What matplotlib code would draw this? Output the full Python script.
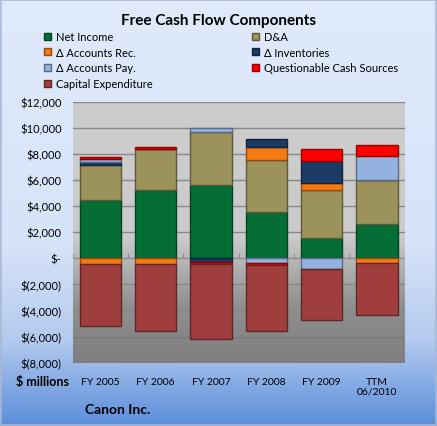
import numpy as np
import matplotlib
matplotlib.use("Agg")
import matplotlib.pyplot as plt
from matplotlib.colors import LinearSegmentedColormap, to_rgb

plt.rcParams['font.family'] = ['Lato', 'DejaVu Sans']

categories = ["FY 2005", "FY 2006", "FY 2007", "FY 2008", "FY 2009", "TTM\n06/2010"]
series_names = ["Net Income", "D&A", "Δ Accounts Rec.", "Δ Inventories",
                "Δ Accounts Pay.", "Questionable Cash Sources", "Capital Expenditure"]
net_income = [4500, 5250, 5650, 3550, 1520, 2600]
d_and_a = [2650, 3130, 4000, 4000, 3720, 3400]
accounts_rec = [-450, -450, 0, 1000, 560, -380]
inventories = [250, 0, -250, 600, 1650, 0]
accounts_pay = [200, 0, 300, -350, -820, 1820]
questionable = [150, 130, -200, -150, 950, 870]
capex = [-4730, -5110, -5730, -5060, -3920, -3980]
yticks = [-8000, -6000, -4000, -2000, 0, 2000, 4000, 6000, 8000, 10000, 12000]
ytick_labels = ["$(8,000)", "$(6,000)", "$(4,000)", "$(2,000)", "$-", "$2,000",
                "$4,000", "$6,000", "$8,000", "$10,000", "$12,000"]

colors = ["#056e37", "#9c935c", "#f57a12", "#1b3a66", "#94b2e0", "#ff0000", "#a03e3e"]
data = [net_income, d_and_a, accounts_rec, inventories, accounts_pay, questionable, capex]

W, H = 437, 427
fig = plt.figure(figsize=(W / 100, H / 100), dpi=100)

# figure background gradient
bg = fig.add_axes([0, 0, 1, 1], zorder=-10)
bg_cmap = LinearSegmentedColormap.from_list(
    "bg", [(0.0, "#e0eafb"), (0.58, "#d6e3f8"), (0.8, "#b3caee"), (1.0, "#5b8edb")])
grad = np.linspace(0, 1, 256).reshape(-1, 1)
bg.imshow(grad, aspect="auto", cmap=bg_cmap, extent=[0, 1, 0, 1], origin="upper")
bg.set_xlim(0, 1)
bg.set_ylim(0, 1)
bg.axis("off")
bg.add_patch(plt.Rectangle((0.002, 0.002), 0.996, 0.996, fill=False,
                           edgecolor="#a9b8d4", linewidth=1.2, transform=bg.transAxes))

ax = fig.add_axes([72.7 / W, 1 - 363.7 / H, 332 / W, 261 / H])
ax.set_ylim(-8000, 12000)
ax.set_xlim(-0.5, len(categories) - 0.5)

# plot area gradient
pa_cmap = LinearSegmentedColormap.from_list(
    "pa", [(0.0, "#cdcdcd"), (0.52, "#cbcbcb"), (0.78, "#8f8f8f"), (1.0, "#7f7f7f")])
ax.imshow(grad, aspect="auto", cmap=pa_cmap, extent=[-0.5, len(categories) - 0.5, -8000, 12000],
          origin="upper", zorder=0)

for yt in yticks:
    if yt in (-8000, 0):
        continue
    ax.axhline(yt, color="#888888" if yt > -6000 else "#777777", linewidth=1.0, zorder=1)
ax.axhline(0, color="#8c8c8c", linewidth=1.0, zorder=1)
for b in np.arange(len(categories) + 1) - 0.5:
    ax.plot([b, b], [0, 300], color="#8c8c8c", linewidth=0.8, zorder=1)

x = np.arange(len(categories))
pos_base = np.zeros(len(categories))
neg_base = np.zeros(len(categories))
handles = []
for name, vals, col in zip(series_names, data, colors):
    vals = np.array(vals, dtype=float)
    bottoms = np.where(vals >= 0, pos_base, neg_base)
    edge = tuple(c * 0.6 for c in to_rgb(col))
    bars = ax.bar(x, vals, width=0.75, bottom=bottoms, color=col, edgecolor=edge,
                  linewidth=1.0, zorder=3, label=name)
    handles.append(bars)
    pos_base = pos_base + np.where(vals >= 0, vals, 0)
    neg_base = neg_base + np.where(vals < 0, vals, 0)

ax.set_yticks(yticks)
ax.set_yticklabels(ytick_labels, fontsize=8)
ax.set_xticks(x)
ax.set_xticklabels(categories, fontsize=7.5)
ax.tick_params(axis="both", length=0, pad=8)
ax.tick_params(axis="x", pad=10)
for s in ax.spines.values():
    s.set_visible(False)

fig.text(0.5, 1 - 21 / H, "Free Cash Flow Components", ha="center", va="center",
         fontsize=11, fontweight="bold")
fig.text(42 / W, 1 - 382 / H, "$ millions", ha="center", va="center",
         fontsize=9, fontweight="bold")
fig.text(118 / W, 1 - 410 / H, "Canon Inc.", ha="center", va="center",
         fontsize=10, fontweight="bold")

left_idx = [0, 2, 4, 6]
right_idx = [1, 3, 5]
leg_kw = dict(frameon=False, fontsize=8, handlelength=0.6, handleheight=0.6,
              labelspacing=0.42, handletextpad=0.45, borderaxespad=0, borderpad=0)
leg1 = fig.legend([handles[i] for i in left_idx], [series_names[i] for i in left_idx],
                  loc="upper left", bbox_to_anchor=(44 / W, 1 - 32 / H), **leg_kw)
leg2 = fig.legend([handles[i] for i in right_idx], [series_names[i] for i in right_idx],
                  loc="upper left", bbox_to_anchor=(252 / W, 1 - 32 / H), **leg_kw)

fig.savefig("out.png", dpi=100)
